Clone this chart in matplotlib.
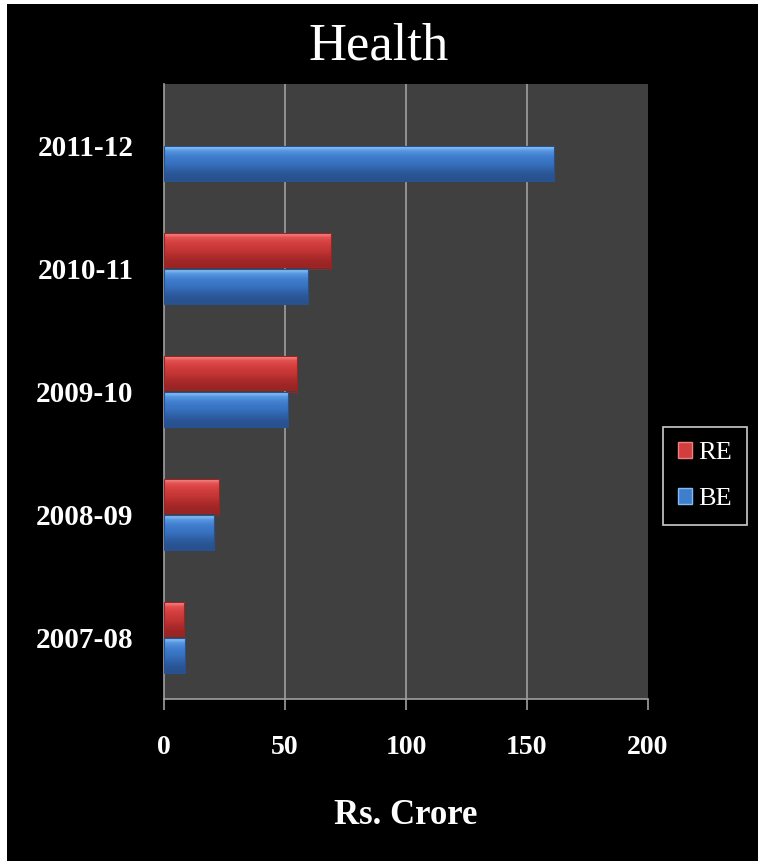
"""Health budget: RE vs BE by year, horizontal bars on a black slide."""
import numpy as np
import matplotlib
matplotlib.use("Agg")
import matplotlib.pyplot as plt
from matplotlib.colors import LinearSegmentedColormap
from matplotlib.patches import Patch, Rectangle

years = ["2007-08", "2008-09", "2009-10", "2010-11", "2011-12"]
re_vals = [8.3, 22.8, 54.9, 69.1, np.nan]
be_vals = [8.6, 20.5, 51.2, 59.5, 161.0]
x_ticks = [0, 50, 100, 150, 200]

SERIF = ["Liberation Serif", "DejaVu Serif"]
RED_SHADES = ["#9a2424", "#c23434", "#d23e3e", "#e35050", "#fa9e9e"]
BLUE_SHADES = ["#28518f", "#3670be", "#407dcd", "#5797e2", "#a8daff"]


def gradient_bars(ax, rects, shades):
    cmap = LinearSegmentedColormap.from_list("g", shades)
    grad = np.linspace(0, 1, 64).reshape(-1, 1) ** 1.8
    for r in rects:
        w = r.get_width()
        if not np.isfinite(w) or w <= 0:
            continue
        x0, y0, h = r.get_x(), r.get_y(), r.get_height()
        im = ax.imshow(grad, cmap=cmap, aspect="auto", origin="lower",
                       extent=(x0, x0 + w, y0, y0 + h), zorder=3,
                       interpolation="bicubic")
        im.set_clip_path(r)
        r.set_facecolor("none")
        r.set_edgecolor(shades[0])
        r.set_linewidth(0.8)
        r.set_zorder(4)


fig = plt.figure(figsize=(7.58, 8.61), dpi=100, facecolor="white")
fig.patches.append(Rectangle((7 / 758, -0.1), 1.2, 1.1 - 4 / 861, transform=fig.transFigure,
                             facecolor="black", edgecolor="none", zorder=-10))
ax = fig.add_axes([164 / 758, 1 - 699 / 861, 484 / 758, 615 / 861])
ax.set_facecolor("#404040")

y = np.arange(len(years))
h = 0.29
re_bars = ax.barh(y + h / 2, re_vals, height=h, color="#d23e3e")
be_bars = ax.barh(y - h / 2, be_vals, height=h, color="#407dcd")
gradient_bars(ax, re_bars, RED_SHADES)
gradient_bars(ax, be_bars, BLUE_SHADES)

for xv in x_ticks[1:-1]:
    ax.axvline(xv, color="#a8a8a8", lw=1.1, zorder=1)

ax.set_xlim(0, 200)
ax.set_ylim(-0.5, len(years) - 0.5)
ax.set_xticks(x_ticks)
ax.set_yticks(y)
ax.set_yticklabels(years)
for s in ("top", "right"):
    ax.spines[s].set_visible(False)
for s in ("bottom", "left"):
    ax.spines[s].set_color("#a0a0a0")
    ax.spines[s].set_linewidth(1.2)

ax.tick_params(axis="x", colors="#a0a0a0", length=8, width=1.2, pad=18,
               labelcolor="white")
ax.tick_params(axis="y", length=0, pad=22, labelcolor="white")
for lab in ax.get_xticklabels():
    lab.set_fontfamily(SERIF)
    lab.set_fontweight("bold")
    lab.set_fontsize(20)
for lab in ax.get_yticklabels():
    lab.set_fontfamily(SERIF)
    lab.set_fontweight("bold")
    lab.set_fontsize(21)

ax.set_xlabel("Rs. Crore", color="white", family=SERIF, fontweight="bold",
              fontsize=25, labelpad=28)
fig.text(0.5, 1 - 46 / 861, "Health", color="white", family=SERIF,
         fontsize=38, ha="center", va="center")

handles = [Patch(facecolor="#d23e3e", edgecolor="#f08080", label="RE"),
           Patch(facecolor="#407dcd", edgecolor="#80bcf5", label="BE")]
leg = fig.legend(handles=handles, loc="center",
                 bbox_to_anchor=(705 / 758, 1 - 476 / 861),
                 frameon=True, fancybox=False, facecolor="black",
                 edgecolor="white", handlelength=0.55, handleheight=0.55,
                 handletextpad=0.25, labelspacing=0.9, borderpad=0.55,
                 borderaxespad=0, prop={"family": SERIF, "size": 19})
leg.get_frame().set_linewidth(1.2)
for t in leg.get_texts():
    t.set_color("white")

fig.savefig("out.png", dpi=100, facecolor=fig.get_facecolor())
